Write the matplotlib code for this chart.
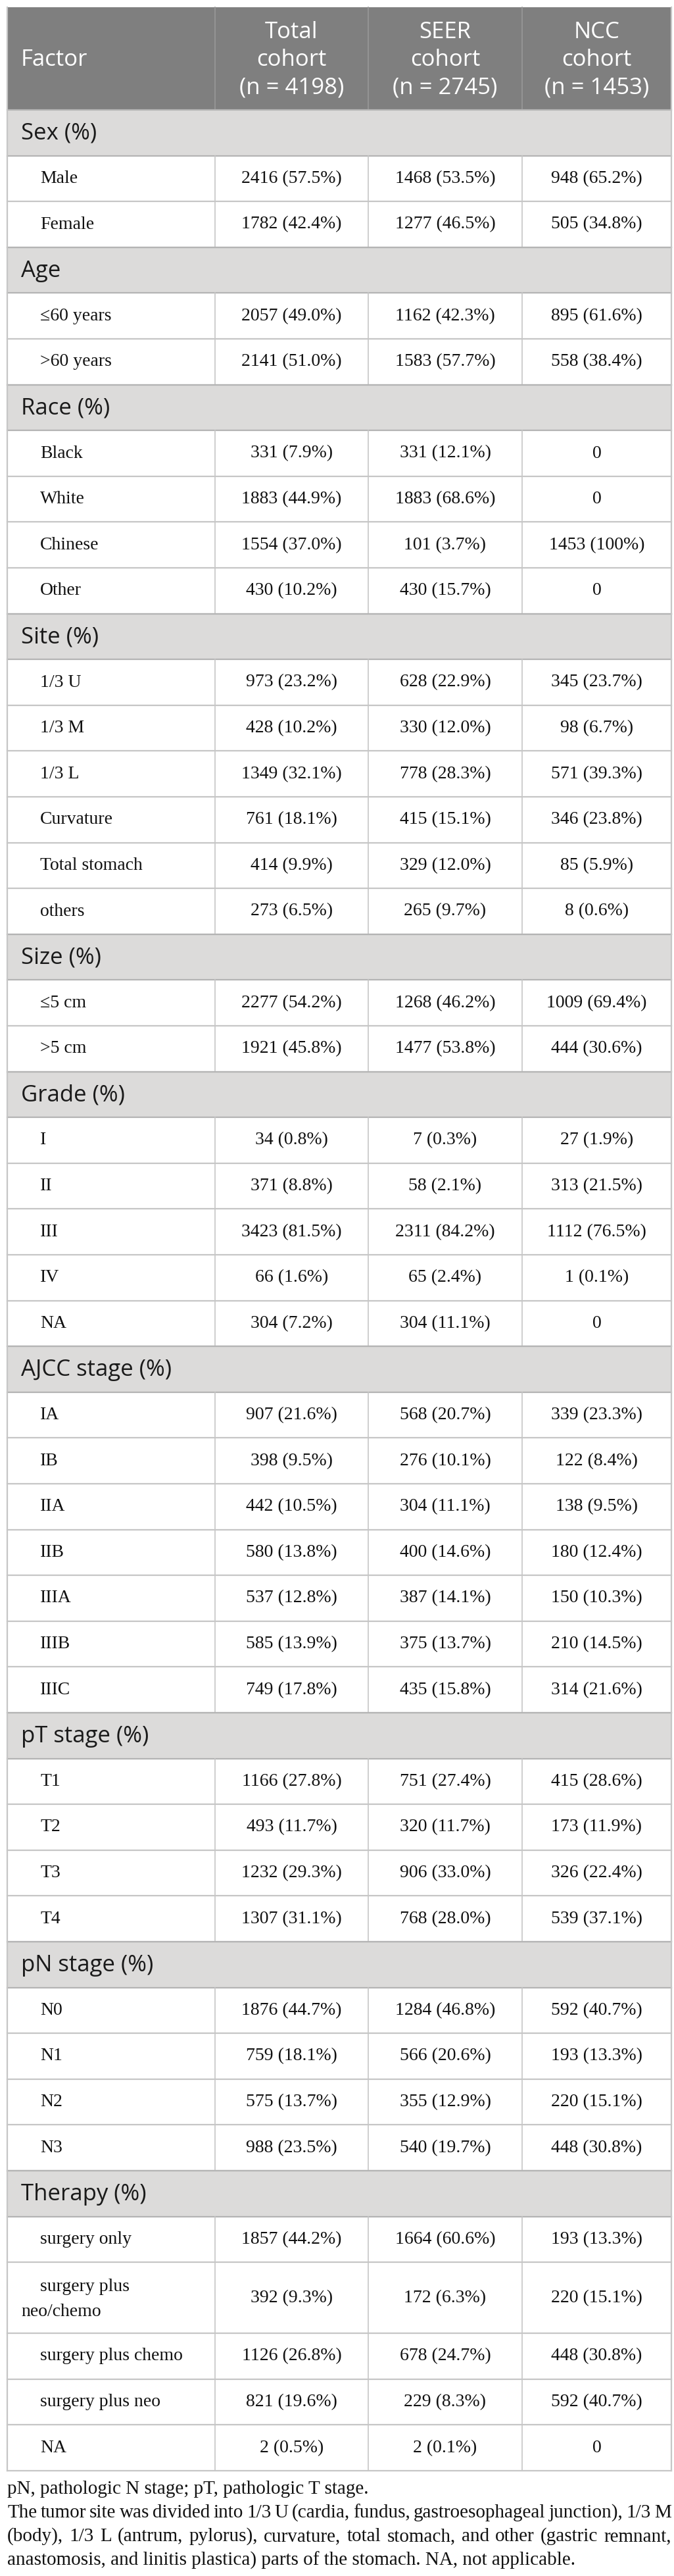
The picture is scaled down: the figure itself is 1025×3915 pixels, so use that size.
import matplotlib
matplotlib.use("Agg")
import matplotlib.pyplot as plt
from matplotlib.patches import Rectangle


# table content
header_labels = ["Factor", "Total\ncohort\n(n = 4198)", "SEER\ncohort\n(n = 2745)", "NCC\ncohort\n(n = 1453)"]

section_names = ["Sex (%)", "Age", "Race (%)", "Site (%)", "Size (%)", "Grade (%)",
                 "AJCC stage (%)", "pT stage (%)", "pN stage (%)", "Therapy (%)"]
section_sizes = [2, 2, 4, 6, 2, 5, 7, 4, 4, 5]

factor_labels = ["Male", "Female",
                 "\u226460 years", ">60 years",
                 "Black", "White", "Chinese", "Other",
                 "1/3 U", "1/3 M", "1/3 L", "Curvature", "Total stomach", "others",
                 "\u22645 cm", ">5 cm",
                 "I", "II", "III", "IV", "NA",
                 "IA", "IB", "IIA", "IIB", "IIIA", "IIIB", "IIIC",
                 "T1", "T2", "T3", "T4",
                 "N0", "N1", "N2", "N3",
                 "surgery only", "surgery plus\nneo/chemo", "surgery plus chemo", "surgery plus neo", "NA"]

total_n = [2416, 1782, 2057, 2141, 331, 1883, 1554, 430,
           973, 428, 1349, 761, 414, 273, 2277, 1921,
           34, 371, 3423, 66, 304,
           907, 398, 442, 580, 537, 585, 749,
           1166, 493, 1232, 1307, 1876, 759, 575, 988,
           1857, 392, 1126, 821, 2]
total_pct = ["57.5", "42.4", "49.0", "51.0", "7.9", "44.9", "37.0", "10.2",
             "23.2", "10.2", "32.1", "18.1", "9.9", "6.5", "54.2", "45.8",
             "0.8", "8.8", "81.5", "1.6", "7.2",
             "21.6", "9.5", "10.5", "13.8", "12.8", "13.9", "17.8",
             "27.8", "11.7", "29.3", "31.1", "44.7", "18.1", "13.7", "23.5",
             "44.2", "9.3", "26.8", "19.6", "0.5"]

seer_n = [1468, 1277, 1162, 1583, 331, 1883, 101, 430,
          628, 330, 778, 415, 329, 265, 1268, 1477,
          7, 58, 2311, 65, 304,
          568, 276, 304, 400, 387, 375, 435,
          751, 320, 906, 768, 1284, 566, 355, 540,
          1664, 172, 678, 229, 2]
seer_pct = ["53.5", "46.5", "42.3", "57.7", "12.1", "68.6", "3.7", "15.7",
            "22.9", "12.0", "28.3", "15.1", "12.0", "9.7", "46.2", "53.8",
            "0.3", "2.1", "84.2", "2.4", "11.1",
            "20.7", "10.1", "11.1", "14.6", "14.1", "13.7", "15.8",
            "27.4", "11.7", "33.0", "28.0", "46.8", "20.6", "12.9", "19.7",
            "60.6", "6.3", "24.7", "8.3", "0.1"]

ncc_n = [948, 505, 895, 558, 0, 0, 1453, 0,
         345, 98, 571, 346, 85, 8, 1009, 444,
         27, 313, 1112, 1, 0,
         339, 122, 138, 180, 150, 210, 314,
         415, 173, 326, 539, 592, 193, 220, 448,
         193, 220, 448, 592, 0]
ncc_pct = ["65.2", "34.8", "61.6", "38.4", "", "", "100", "",
           "23.7", "6.7", "39.3", "23.8", "5.9", "0.6", "69.4", "30.6",
           "1.9", "21.5", "76.5", "0.1", "",
           "23.3", "8.4", "9.5", "12.4", "10.3", "14.5", "21.6",
           "28.6", "11.9", "22.4", "37.1", "40.7", "13.3", "15.1", "30.8",
           "13.3", "15.1", "30.8", "40.7", ""]

note_line1 = "pN, pathologic N stage; pT, pathologic T stage."
note_para = ["The tumor site was divided into 1/3 U (cardia, fundus, gastroesophageal junction), 1/3 M",
             "(body), 1/3 L (antrum, pylorus), curvature, total stomach, and other (gastric remnant,",
             "anastomosis, and linitis plastica) parts of the stomach. NA, not applicable."]


def fmt(n, p):
    return f"{n} ({p}%)" if p else f"{n}"


W, H = 1025, 3915
fig = plt.figure(figsize=(W / 100, H / 100), dpi=100)
ax = fig.add_axes([0, 0, 1, 1])
ax.set_xlim(0, W)
ax.set_ylim(H, 0)
ax.axis("off")

sans = "Open Sans"
serif = "Liberation Serif"
col_x = [11, 327, 560, 794, 1021]
col_c = [(col_x[i] + col_x[i + 1]) / 2 for i in range(4)]
border = "#c6c6c6"
ink = "#111111"

top, head_bot = 11, 167
row_h, dbl_h = 69.6, 108

# header
ax.add_patch(Rectangle((col_x[0], top), col_x[-1] - col_x[0], head_bot - top, color="#7f7f7f", lw=0))
for x in col_x[1:-1]:
    ax.plot([x, x], [top, head_bot], color="#999999", lw=1.2)
head_lines_y = [49, 91, 133]
ax.text(32, head_lines_y[1], header_labels[0], color="white", fontsize=25,
        family=sans, va="center", ha="left")
for i in range(1, 4):
    for ly, part in zip(head_lines_y, header_labels[i].split("\n")):
        ax.text(col_c[i], ly, part, color="white", fontsize=25,
                family=sans, va="center", ha="center")

# body rows
y = head_bot
k = 0
for name, size in zip(section_names, section_sizes):
    ax.add_patch(Rectangle((col_x[0], y), col_x[-1] - col_x[0], row_h, color="#dcdbda", lw=0))
    ax.text(32, y + row_h / 2 + 1, name, color="#1a1a1a", fontsize=25, family=sans,
            va="center", ha="left")
    ax.plot([col_x[0], col_x[-1]], [y, y], color="#b4b4b4", lw=1.6)
    y += row_h
    ax.plot([col_x[0], col_x[-1]], [y, y], color="#b4b4b4", lw=1.6)
    for j in range(size):
        lab = factor_labels[k]
        h = dbl_h if "\n" in lab else row_h
        yc = y + h / 2
        if "\n" in lab:
            first, second = lab.split("\n")
            ax.text(61, yc - 17, first, fontsize=20, family=serif, va="center", ha="left", color=ink)
            ax.text(32, yc + 21, second, fontsize=20, family=serif, va="center", ha="left", color=ink)
        else:
            ax.text(61, yc, lab, fontsize=20, family=serif, va="center", ha="left", color=ink)
        vals = [fmt(total_n[k], total_pct[k]), fmt(seer_n[k], seer_pct[k]), fmt(ncc_n[k], ncc_pct[k])]
        for i, v in enumerate(vals):
            ax.text(col_c[i + 1], yc, v, fontsize=20, family=serif, va="center", ha="center", color=ink)
        for x in col_x[1:-1]:
            ax.plot([x, x], [y, y + h], color=border, lw=1.2)
        y += h
        ax.plot([col_x[0], col_x[-1]], [y, y], color=border, lw=1.6)
        k += 1

table_bot = y
for x in (col_x[0], col_x[-1]):
    ax.plot([x, x], [top, table_bot], color=border, lw=1.6)

# footnotes
note_fs = 21
fy = table_bot + 28
ax.text(col_x[0], fy, note_line1, fontsize=note_fs, family=serif, va="center", ha="left", color=ink)

fig.canvas.draw()
renderer = fig.canvas.get_renderer()
for li, line in enumerate(note_para):
    ly = fy + 36 * (li + 1)
    if li == len(note_para) - 1:
        ax.text(col_x[0], ly, line, fontsize=note_fs, family=serif, va="center", ha="left", color=ink)
        continue
    words = line.split(" ")
    arts = [ax.text(0, ly, w, fontsize=note_fs, family=serif, va="center", ha="left", color=ink)
            for w in words]
    widths = [a.get_window_extent(renderer).width for a in arts]
    gap = max((col_x[-1] - col_x[0] - sum(widths)) / (len(words) - 1), 3)
    x = col_x[0]
    for a, w in zip(arts, widths):
        a.set_x(x)
        x += w + gap

fig.savefig("out.png", dpi=100, facecolor="white")
